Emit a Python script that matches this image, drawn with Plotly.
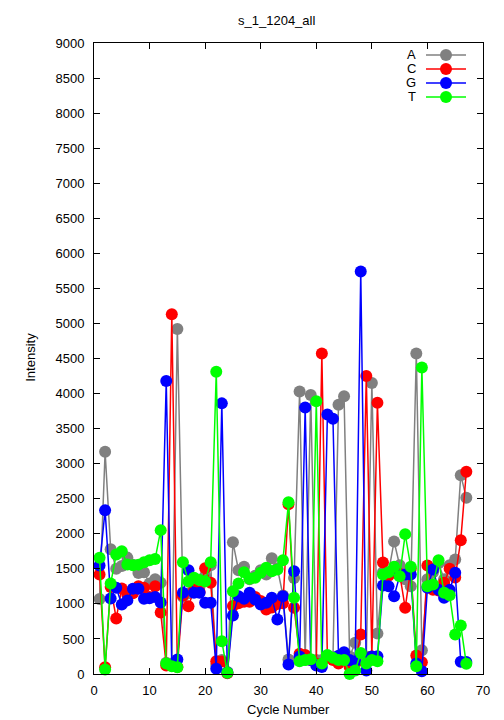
import plotly.graph_objects as go

title = "s_1_1204_all"
cycles = list(range(1, 68))

A = [1070, 3170, 1780, 1500, 1540, 1660, 1560, 1440, 1450, 1290,
     1350, 1300, 160, 150, 4920, 1100, 1150, 1350, 1250, 1400,
     1550, 130, 200, 30, 1880, 1480, 1530, 1350, 1400, 1480,
     1420, 1650, 1510, 1120, 207, 1370, 4030, 200, 3980, 200,
     200, 250, 240, 3840, 3960, 250, 445, 200, 250, 4150,
     578, 1450, 1450, 1890, 1550, 1350, 1250, 4570, 340, 1350,
     1450, 1580, 1350, 1550, 1633, 2836, 2513]
C = [1420, 97, 1240, 792, 1220, 1130, 1150, 1253, 1230, 1100,
     1250, 877, 121, 5130, 100, 1120, 967, 1200, 1170, 1510,
     1300, 183, 180, 10, 970, 1010, 1030, 1030, 1100, 1040,
     920, 950, 1000, 1010, 2420, 944, 290, 270, 200, 150,
     4570, 230, 200, 150, 250, 100, 150, 563, 4250, 250,
     3870, 1590, 1400, 1450, 1430, 944, 1500, 264, 168, 1548,
     1200, 1190, 1300, 1500, 1377, 1909, 2884]
G = [1548, 2337, 1077, 1230, 992, 1050, 1215, 1215, 1073, 1080,
     1100, 1020, 4180, 120, 207, 1160, 1480, 1160, 1160, 1015,
     1015, 74, 3860, 20, 835, 1110, 1073, 1160, 1063, 991,
     1015, 1087, 777, 1110, 135, 1467, 250, 3800, 200, 120,
     100, 3700, 3640, 260, 310, 200, 180, 5740, 50, 250,
     254, 1262, 1250, 1110, 1400, 1420, 1419, 150, 40, 1230,
     1491, 1200, 1087, 1200, 1443, 174, 170]
T = [1658, 64, 1291, 1705, 1752, 1562, 1550, 1560, 1595, 1624,
     1640, 2052, 150, 111, 95, 1595, 1320, 1372, 1340, 1324,
     1595, 4310, 468, 17, 1181, 1291, 1453, 1360, 1372, 1443,
     1515, 1467, 1491, 1624, 2450, 1087, 183, 200, 210, 3890,
     150, 270, 230, 200, 200, 0, 50, 300, 150, 200,
     183, 1419, 1450, 1529, 1395, 1995, 1529, 111, 4370, 1253,
     1277, 1624, 1158, 1124, 563, 692, 145]

names = ["A", "C", "G", "T"]
colors = ["#808080", "#ff0000", "#0000ff", "#00ff00"]
series = [A, C, G, T]

fig = go.Figure()
for nm, col, ys in zip(names, colors, series):
    fig.add_trace(go.Scatter(
        x=cycles, y=ys, name=nm, mode="lines+markers",
        line=dict(color=col, width=1.5),
        marker=dict(color=col, size=12),
        cliponaxis=False, showlegend=False))

font = dict(family="Liberation Sans, Arial, sans-serif", size=13, color="black")

FW, FH = 504, 720
# plot frame in window pixels
L, R, T_, B = 94, 483, 43, 674.5
W, H = R - L, B - T_
def px(xp): return (xp - L) / W
def py(yp): return (B - yp) / H

rows = [55, 69, 83, 97]
for nm, col, yy in zip(names, colors, rows):
    fig.add_annotation(x=px(418), y=py(yy), xref="paper", yref="paper",
                       text=nm, showarrow=False, xanchor="right", yanchor="middle",
                       font=font)
    fig.add_shape(type="line", xref="paper", yref="paper",
                  x0=px(426), x1=px(466), y0=py(yy), y1=py(yy),
                  line=dict(color=col, width=1.5))
    fig.add_shape(type="circle", xref="paper", yref="paper",
                  x0=px(440), x1=px(452), y0=py(yy + 6), y1=py(yy - 6),
                  fillcolor=col, line=dict(color=col, width=0))

fig.add_annotation(x=px(276), y=py(20), xref="paper", yref="paper",
                   text=title, showarrow=False, xanchor="center", yanchor="middle",
                   font=font)
fig.add_annotation(x=px(288), y=py(710), xref="paper", yref="paper",
                   text="Cycle Number", showarrow=False, xanchor="center", yanchor="middle",
                   font=font)
fig.add_annotation(x=px(31), y=py(358), xref="paper", yref="paper",
                   text="Intensity", showarrow=False, xanchor="center", yanchor="middle",
                   textangle=-90, font=font)

fig.update_layout(
    width=FW, height=FH,
    margin=dict(l=L, r=FW - R, t=T_, b=FH - B, autoexpand=False),
    paper_bgcolor="white", plot_bgcolor="white",
    font=font,
    xaxis=dict(range=[0, 70], dtick=10, tick0=0, showgrid=False, zeroline=False,
               showline=True, linecolor="black", linewidth=1, mirror="allticks",
               ticks="inside", ticklen=6, tickcolor="black", automargin=False,
               ticklabelstandoff=4),
    yaxis=dict(range=[0, 9000], dtick=500, tick0=0, showgrid=False, zeroline=False,
               showline=True, linecolor="black", linewidth=1, mirror="allticks",
               ticks="inside", ticklen=6, tickcolor="black", automargin=False,
               ticklabelstandoff=6),
)

fig.write_html("out.html",
               config={"displayModeBar": False},
               post_script="document.body.style.margin='0px';document.body.style.overflow='hidden';")
